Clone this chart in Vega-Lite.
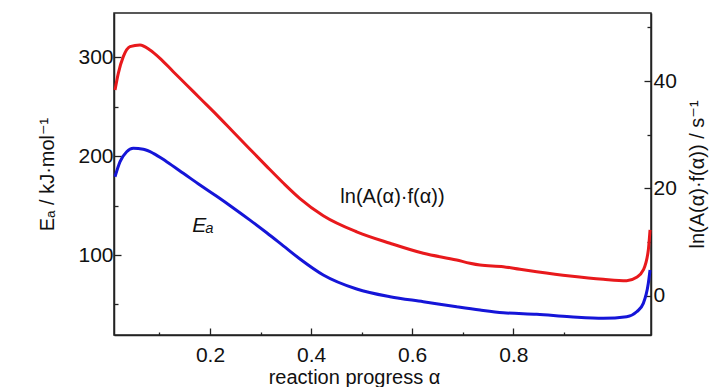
{
  "$schema": "https://vega.github.io/schema/vega-lite/v6.json",
  "width": 537,
  "height": 322,
  "padding": {"left": 37, "top": 13, "right": 5, "bottom": 0},
  "autosize": {"type": "pad"},
  "config": {
    "view": {"stroke": "#222", "strokeWidth": 1.5},
    "font": "Liberation Sans, Arial, DejaVu Sans",
    "axis": {
      "labelFont": "Liberation Sans, Arial, DejaVu Sans",
      "titleFont": "Liberation Sans, Arial, DejaVu Sans",
      "labelFontSize": 21,
      "titleFontSize": 20,
      "titleFontWeight": "normal",
      "labelColor": "#111",
      "titleColor": "#111",
      "domainColor": "#222",
      "tickColor": "#222",
      "domainWidth": 1.5,
      "tickWidth": 1.3,
      "grid": false
    }
  },
  "datasets": {
    "ea": [
      {"alpha": 0.0121, "Ea": 179.2}, {"alpha": 0.0221, "Ea": 194.4}, {"alpha": 0.0352, "Ea": 204.5},
      {"alpha": 0.0483, "Ea": 207.9}, {"alpha": 0.0681, "Ea": 206.9}, {"alpha": 0.0878, "Ea": 202.9},
      {"alpha": 0.1143, "Ea": 194.4}, {"alpha": 0.1472, "Ea": 182.7}, {"alpha": 0.1802, "Ea": 170.8},
      {"alpha": 0.2133, "Ea": 159.4}, {"alpha": 0.2461, "Ea": 147.6}, {"alpha": 0.2791, "Ea": 135.3},
      {"alpha": 0.3122, "Ea": 122.5}, {"alpha": 0.3450, "Ea": 109.3}, {"alpha": 0.3780, "Ea": 96.0},
      {"alpha": 0.4241, "Ea": 79.8}, {"alpha": 0.4902, "Ea": 65.6}, {"alpha": 0.5561, "Ea": 57.8},
      {"alpha": 0.6220, "Ea": 52.8}, {"alpha": 0.6880, "Ea": 47.7}, {"alpha": 0.7341, "Ea": 44.4},
      {"alpha": 0.7802, "Ea": 41.6}, {"alpha": 0.8463, "Ea": 40.0}, {"alpha": 0.9122, "Ea": 37.6},
      {"alpha": 0.9781, "Ea": 36.0}, {"alpha": 1.0243, "Ea": 37.6}, {"alpha": 1.0441, "Ea": 42.6},
      {"alpha": 1.0572, "Ea": 51.1}, {"alpha": 1.0671, "Ea": 71.4}, {"alpha": 1.0705, "Ea": 84.8}
    ],
    "lnA": [
      {"alpha": 0.0121, "lnAf": 38.34}, {"alpha": 0.0186, "lnAf": 41.45}, {"alpha": 0.0285, "lnAf": 44.55},
      {"alpha": 0.0417, "lnAf": 46.41}, {"alpha": 0.0615, "lnAf": 46.73}, {"alpha": 0.0812, "lnAf": 45.80},
      {"alpha": 0.1011, "lnAf": 44.25}, {"alpha": 0.1274, "lnAf": 41.75}, {"alpha": 0.1539, "lnAf": 39.27},
      {"alpha": 0.1802, "lnAf": 36.80}, {"alpha": 0.2133, "lnAf": 33.70}, {"alpha": 0.2461, "lnAf": 30.50},
      {"alpha": 0.2791, "lnAf": 27.30}, {"alpha": 0.3122, "lnAf": 24.10}, {"alpha": 0.3450, "lnAf": 21.00},
      {"alpha": 0.3780, "lnAf": 18.10}, {"alpha": 0.4241, "lnAf": 14.90}, {"alpha": 0.4902, "lnAf": 11.90},
      {"alpha": 0.5561, "lnAf": 9.77}, {"alpha": 0.6220, "lnAf": 7.90}, {"alpha": 0.6880, "lnAf": 6.65},
      {"alpha": 0.7143, "lnAf": 6.04}, {"alpha": 0.7341, "lnAf": 5.70}, {"alpha": 0.7802, "lnAf": 5.41},
      {"alpha": 0.8132, "lnAf": 4.92}, {"alpha": 0.8463, "lnAf": 4.47}, {"alpha": 0.9122, "lnAf": 3.67},
      {"alpha": 0.9781, "lnAf": 3.06}, {"alpha": 1.0243, "lnAf": 2.80}, {"alpha": 1.0441, "lnAf": 3.43},
      {"alpha": 1.0572, "lnAf": 4.79}, {"alpha": 1.0671, "lnAf": 8.52}, {"alpha": 1.0705, "lnAf": 12.25}
    ],
    "noteLn": [{"alpha": 0.561, "Ea": 158.7, "label": "ln(A(α)·f(α))"}],
    "noteEa": [{"alpha": 0.186, "Ea": 129.3, "label": "Eₐ"}]
  },
  "layer": [
    {
      "data": {"name": "ea"},
      "mark": {"type": "line", "color": "#1515d8", "strokeWidth": 3, "interpolate": "monotone"},
      "encoding": {
        "x": {"field": "alpha", "type": "quantitative",
              "scale": {"domain": [0.0101, 1.0724], "nice": false, "zero": false},
              "axis": {"orient": "bottom", "values": [0.2, 0.4, 0.6, 0.8], "format": ".1f", "tickSize": -7,
                       "labelPadding": 16, "title": "reaction progress α", "titlePadding": 2, "titleX": 240}},
        "y": {"field": "Ea", "type": "quantitative",
              "scale": {"domain": [19.1, 344.8], "nice": false, "zero": false},
              "axis": {"orient": "left", "values": [100, 200, 300], "tickSize": -7, "labelPadding": 8,
                       "title": "Eₐ / kJ·mol⁻¹", "titlePadding": 20}}
      }
    },
    {
      "data": {"name": "lnA"},
      "mark": {"type": "line", "color": "#e8191c", "strokeWidth": 3, "interpolate": "monotone"},
      "encoding": {
        "x": {"field": "alpha", "type": "quantitative",
              "scale": {"domain": [0.0101, 1.0724], "nice": false, "zero": false}, "axis": null},
        "y": {"field": "lnAf", "type": "quantitative",
              "scale": {"domain": [-7.33, 52.69], "nice": false, "zero": false},
              "axis": {"orient": "right", "values": [0, 20, 40], "tickSize": -7, "labelPadding": 9,
                       "title": "ln(A(α)·f(α)) / s⁻¹", "titlePadding": 11, "titleAngle": 270,
                       "titleBaseline": "top"}}
      }
    },
    {
      "data": {"name": "ea"},
      "mark": {"type": "line", "opacity": 0},
      "encoding": {
        "x": {"field": "alpha", "type": "quantitative",
              "scale": {"domain": [0.0101, 1.0724], "nice": false, "zero": false},
              "axis": {"orient": "bottom", "values": [0.1, 0.3, 0.5, 0.7, 0.9], "tickSize": -3,
                       "labels": false, "domain": false, "title": null}},
        "y": {"field": "Ea", "type": "quantitative",
              "scale": {"domain": [19.1, 344.8], "nice": false, "zero": false},
              "axis": {"orient": "left", "values": [50, 150, 250], "tickSize": -4,
                       "labels": false, "domain": false, "title": null}}
      }
    },
    {
      "data": {"name": "lnA"},
      "mark": {"type": "line", "opacity": 0},
      "encoding": {
        "x": {"field": "alpha", "type": "quantitative",
              "scale": {"domain": [0.0101, 1.0724], "nice": false, "zero": false}, "axis": null},
        "y": {"field": "lnAf", "type": "quantitative",
              "scale": {"domain": [-7.33, 52.69], "nice": false, "zero": false},
              "axis": {"orient": "right", "values": [10, 30, 50], "tickSize": -4,
                       "labels": false, "domain": false, "title": null}}
      }
    },
    {
      "data": {"name": "noteLn"},
      "mark": {"type": "text", "fontSize": 20, "color": "#111", "align": "center", "baseline": "middle",
               "font": "Liberation Sans, Arial, DejaVu Sans"},
      "encoding": {
        "x": {"field": "alpha", "type": "quantitative",
              "scale": {"domain": [0.0101, 1.0724], "nice": false, "zero": false}, "axis": null},
        "y": {"field": "Ea", "type": "quantitative",
              "scale": {"domain": [19.1, 344.8], "nice": false, "zero": false}, "axis": null},
        "text": {"field": "label"}
      }
    },
    {
      "data": {"name": "noteEa"},
      "mark": {"type": "text", "fontSize": 21, "fontStyle": "italic", "color": "#111", "align": "center",
               "baseline": "middle", "font": "Liberation Sans, Arial, DejaVu Sans"},
      "encoding": {
        "x": {"field": "alpha", "type": "quantitative",
              "scale": {"domain": [0.0101, 1.0724], "nice": false, "zero": false}, "axis": null},
        "y": {"field": "Ea", "type": "quantitative",
              "scale": {"domain": [19.1, 344.8], "nice": false, "zero": false}, "axis": null},
        "text": {"field": "label"}
      }
    }
  ],
  "resolve": {
    "scale": {"x": "independent", "y": "independent"},
    "axis": {"x": "independent", "y": "independent"}
  }
}
